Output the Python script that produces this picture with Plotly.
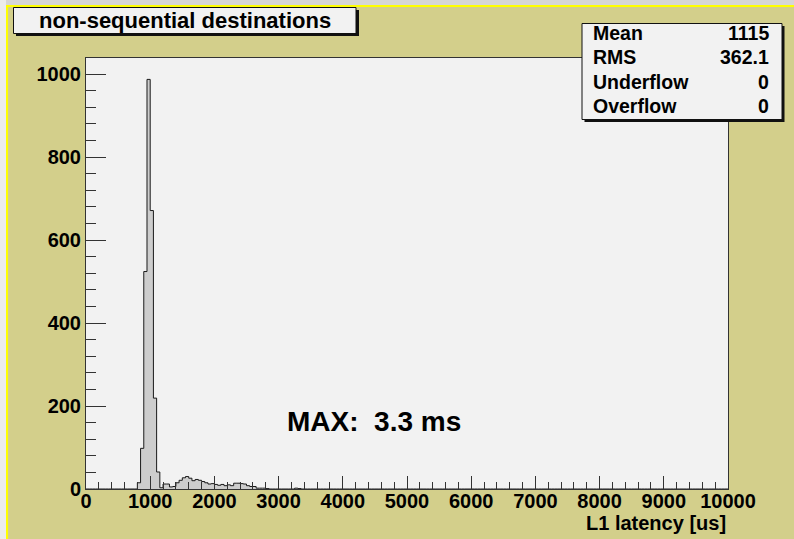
import plotly.graph_objects as go

# ---- data -------------------------------------------------------------
bin_width = 50
x_min, x_max = 0, 10000
first_edge = 800
counts = [15, 98, 524, 987, 671, 219, 41, 3, 12, 12, 5, 6, 15, 21, 27, 30,
          26, 20, 23, 21, 18, 15, 12, 13, 11, 9, 11, 8, 10, 8, 14, 14, 13, 12,
          8, 6, 6, 2, 2, 2, 1, 0, 0, 0, 0, 0, 0, 0, 0, 2, 1]
title_text = "non-sequential destinations"
stats_labels = ["Mean", "RMS", "Underflow", "Overflow"]
stats_values = ["1115", "362.1", "0", "0"]
x_title = "L1 latency [us]"
note_text = "MAX:\u00a0\u00a03.3 ms"
x_ticks = list(range(0, 10001, 1000))
x_ticklabels = [str(v) for v in x_ticks]
y_ticks = list(range(0, 1001, 200))

# ---- histogram outline built from bins ---------------------------------
n_bins = (x_max - x_min) // bin_width
all_counts = [0] * n_bins
start = (first_edge - x_min) // bin_width
for i, c in enumerate(counts):
    all_counts[start + i] = c
edges = [x_min + i * bin_width for i in range(n_bins + 1)]
xs = [edges[0]] + edges
ys = [0] + all_counts + [0]

# ---- layout geometry (pixels) ------------------------------------------
W, H = 794, 539
L, R, T, B = 86, 728, 58, 489
PW, PH = R - L, B - T


def fx(px):
    return (px - L) / PW


def fy(py):
    return (B - py) / PH


KHAKI = "#d3cf8b"
PLOTBG = "#f2f2f2"
FONT = "Liberation Sans, Arial, Helvetica, sans-serif"

fig = go.Figure()
fig.add_trace(go.Scatter(
    x=xs, y=ys, mode="lines", line=dict(shape="hv", color="#1a1a1a", width=1),
    fill="tozeroy", fillcolor="#cdcdcd", hoverinfo="skip", showlegend=False))

shapes = []
# outer frame strips
shapes.append(dict(type="rect", xref="paper", yref="paper", x0=fx(0), x1=fx(W),
                   y0=fy(0), y1=fy(5), fillcolor="#d6d6d6", line_width=0, layer="below"))
shapes.append(dict(type="rect", xref="paper", yref="paper", x0=fx(0), x1=fx(6),
                   y0=fy(0), y1=fy(H), fillcolor="#ececec", line_width=0, layer="below"))
shapes.append(dict(type="rect", xref="paper", yref="paper", x0=fx(6), x1=fx(W),
                   y0=fy(5), y1=fy(7), fillcolor="#ffff00", line_width=0, layer="below"))
shapes.append(dict(type="rect", xref="paper", yref="paper", x0=fx(6), x1=fx(8),
                   y0=fy(5), y1=fy(H), fillcolor="#ffff00", line_width=0, layer="below"))
# title box with shadow
shapes.append(dict(type="rect", xref="paper", yref="paper", x0=fx(16), x1=fx(359),
                   y0=fy(10), y1=fy(36), fillcolor="#111111", line_width=0, layer="above"))
shapes.append(dict(type="rect", xref="paper", yref="paper", x0=fx(13.5), x1=fx(356),
                   y0=fy(7.5), y1=fy(33.5), fillcolor=PLOTBG,
                   line=dict(color="#111111", width=1), layer="above"))
# stats box with shadow
shapes.append(dict(type="rect", xref="paper", yref="paper", x0=fx(584.5), x1=fx(784.5),
                   y0=fy(26), y1=fy(122), fillcolor="#111111", line_width=0, layer="above"))
shapes.append(dict(type="rect", xref="paper", yref="paper", x0=fx(582), x1=fx(782),
                   y0=fy(23.5), y1=fy(119.5), fillcolor=PLOTBG,
                   line=dict(color="#111111", width=1), layer="above"))

annotations = []
annotations.append(dict(xref="paper", yref="paper", x=fx(185), y=fy(21),
                        xanchor="center", yanchor="middle", showarrow=False,
                        text=title_text,
                        font=dict(family=FONT, size=22, color="black", weight="bold")))
rows_y = [32.5, 57, 81.5, 106]
for lab, val, py in zip(stats_labels, stats_values, rows_y):
    annotations.append(dict(xref="paper", yref="paper", x=fx(591), y=fy(py),
                            xanchor="left", yanchor="middle", showarrow=False, text=lab,
                            font=dict(family=FONT, size=19.5, color="black", weight="bold")))
    annotations.append(dict(xref="paper", yref="paper", x=fx(771), y=fy(py),
                            xanchor="right", yanchor="middle", showarrow=False, text=val,
                            font=dict(family=FONT, size=19.5, color="black", weight="bold")))
annotations.append(dict(xref="paper", yref="paper", x=fx(728), y=fy(523),
                        xanchor="right", yanchor="middle", showarrow=False, text=x_title,
                        font=dict(family=FONT, size=20, color="black", weight="bold")))
annotations.append(dict(xref="paper", yref="paper", x=fx(285), y=fy(421.5),
                        xanchor="left", yanchor="middle", showarrow=False, text=note_text,
                        font=dict(family=FONT, size=28, color="black", weight="bold")))

tickfont = dict(family=FONT, size=20, color="black", weight="bold")
fig.update_layout(
    width=W, height=H,
    margin=dict(l=L, r=W - R, t=T, b=H - B, pad=0),
    paper_bgcolor=KHAKI, plot_bgcolor=PLOTBG,
    shapes=shapes, annotations=annotations, showlegend=False,
    xaxis=dict(range=[x_min, x_max], tickmode="array", tickvals=x_ticks,
               ticktext=x_ticklabels, ticklabelstandoff=-6,
               ticks="inside", ticklen=13, tickcolor="#333333", tickwidth=1,
               minor=dict(dtick=200, ticks="inside", ticklen=7, tickcolor="#333333",
                          tickwidth=1, showgrid=False),
               showgrid=False, zeroline=False, showline=True, linecolor="#333333",
               linewidth=1, mirror=True, tickfont=tickfont),
    yaxis=dict(range=[0, (B - T) / 0.415], tickmode="array", tickvals=y_ticks,
               ticks="inside", ticklen=20, tickcolor="#333333", tickwidth=1,
               minor=dict(dtick=40, ticks="inside", ticklen=10, tickcolor="#333333",
                          tickwidth=1, showgrid=False),
               showgrid=False, zeroline=False, showline=True, linecolor="#333333",
               linewidth=1, mirror=True, tickfont=tickfont),
)

fig.write_html("out.html")
